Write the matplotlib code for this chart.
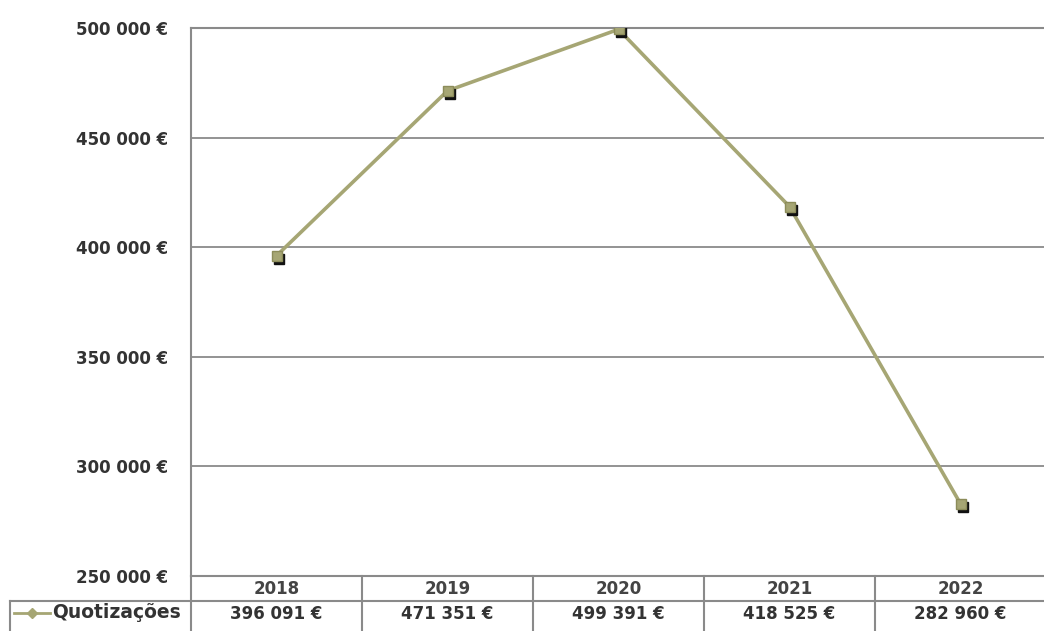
import matplotlib
matplotlib.use("Agg")
import matplotlib.pyplot as plt
import matplotlib.transforms as mtransforms
from matplotlib.lines import Line2D

years = ["2018", "2019", "2020", "2021", "2022"]
quotizacoes = [396091, 471351, 499391, 418525, 282960]
series_name = "Quotizações"
y_ticks = [250000, 300000, 350000, 400000, 450000, 500000]

line_col = "#a6a674"
grid_col = "#8a8a8a"
text_col = "#333333"
plt.rcParams["font.family"] = ["DejaVu Sans"]


def euro(v):
    return f"{v:,.0f}".replace(",", " ") + " €"


W, H = 1044, 631
fig = plt.figure(figsize=(W / 100, H / 100), dpi=100)
fig.patch.set_facecolor("white")
# plot area: x 191..1046 px, y 28..576 px
ax = fig.add_axes([191 / W, (H - 576) / H, 855 / W, 548 / H])
ax.set_xlim(-0.5, len(years) - 0.5)
ax.set_ylim(y_ticks[0], y_ticks[-1])
ax.set_yticks(y_ticks)
ax.set_yticklabels([euro(t) for t in y_ticks], fontsize=12, fontweight="bold", color=text_col)
ax.tick_params(axis="y", length=0, pad=16.5)
ax.set_xticks([])
for s in ["right", "bottom"]:
    ax.spines[s].set_visible(False)
for s in ["left", "top"]:
    ax.spines[s].set_color(grid_col)
    ax.spines[s].set_linewidth(1.5)
ax.yaxis.grid(True, color=grid_col, linewidth=1.3)
ax.set_axisbelow(True)

x = list(range(len(years)))
ax.plot(x, quotizacoes, color=line_col, linewidth=2.6, zorder=3)
shadow = mtransforms.offset_copy(ax.transData, fig=fig, x=2, y=-3, units="dots")
ax.plot(x, quotizacoes, linestyle="none", marker="s", markersize=7.5,
        color="#111111", transform=shadow, zorder=4)
ax.plot(x, quotizacoes, linestyle="none", marker="s", markersize=7.5,
        color=line_col, markeredgecolor="#8c8c5a", zorder=5)

# data table under the plot
tr = ax.get_xaxis_transform()
ax_h = 548
r1 = 0.0
r2 = -25 / ax_h
r3 = -56 / ax_h
kw = dict(color=grid_col, linewidth=1.5, transform=tr, clip_on=False)
ax.add_line(Line2D([-0.5, 4.5], [r1, r1], **kw))
ax.add_line(Line2D([-0.5 - 181 / 171, 4.5], [r2, r2], **kw))
for i in range(len(years)):
    ax.add_line(Line2D([i - 0.5, i - 0.5], [r1, r3], **kw))
ax.add_line(Line2D([-0.5 - 181 / 171] * 2, [r2, r3], **kw))
for i, (yr, v) in enumerate(zip(years, quotizacoes)):
    ax.text(i, r1 - 13 / ax_h, yr, transform=tr, ha="center", va="center",
            fontsize=12, fontweight="bold", color="#444444", clip_on=False)
    ax.text(i, r2 - 13 / ax_h, euro(v), transform=tr, ha="center", va="center",
            fontsize=12, fontweight="bold", color=text_col, clip_on=False)

# legend key in the table
ly = (H - 613) / H
fig.add_artist(Line2D([14 / W, 50 / W], [ly, ly], color=line_col, linewidth=2))
fig.add_artist(Line2D([32 / W], [ly], color=line_col, marker="D", markersize=5,
                      linestyle="none"))
fig.text(52 / W, ly, series_name, ha="left", va="center", fontsize=13.5,
         fontweight="bold", color=text_col)

fig.savefig("out.png", dpi=100, facecolor="white")
